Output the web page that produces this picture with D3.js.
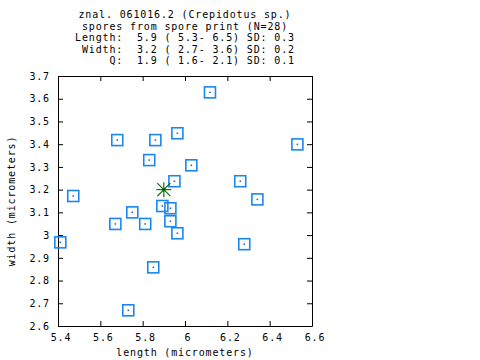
<!DOCTYPE html>
<html>
<head>
<meta charset="utf-8">
<script src="https://cdn.jsdelivr.net/npm/d3@7"></script>
<style>
  html, body { margin: 0; padding: 0; background: #fff; }
  svg { display: block; }
  text { font-family: "DejaVu Sans Mono", "Liberation Mono", monospace; font-size: 10px; letter-spacing: 0.85px; fill: #000; }
  .title { white-space: pre; }
</style>
</head>
<body>
<svg id="chart" width="480" height="360"></svg>
<script>
// ---- data ----
const titleLines = [
  "znal. 061016.2 (Crepidotus sp.)",
  "spores from spore print (N=28)",
  "Length:  5.9 ( 5.3- 6.5) SD: 0.3",
  " Width:  3.2 ( 2.7- 3.6) SD: 0.2",
  "     Q:  1.9 ( 1.6- 2.1) SD: 0.1"
];
const xLabel = "length (micrometers)";
const yLabel = "width (micrometers)";
const xTicks = [5.4, 5.6, 5.8, 6.0, 6.2, 6.4, 6.6];
const yTicks = [2.6, 2.7, 2.8, 2.9, 3.0, 3.1, 3.2, 3.3, 3.4, 3.5, 3.6, 3.7];
const lengths = [6.118, 5.680, 5.860, 5.964, 5.831, 6.030, 6.531, 6.261, 6.342, 6.280, 5.950,
                 5.472, 5.411, 5.751, 5.671, 5.812, 5.893, 5.931, 5.931, 5.964, 5.850, 5.732];
const widths  = [3.628, 3.418, 3.418, 3.448, 3.330, 3.307, 3.399, 3.237, 3.157, 2.960, 3.237,
                 3.172, 2.968, 3.100, 3.049, 3.049, 3.128, 3.118, 3.061, 3.008, 2.858, 2.669];
const meanLength = [5.9];
const meanWidth = [3.2];

// ---- layout ----
const L = 58, R = 312, T = 76, B = 326;
const svg = d3.select("#chart");
const x = d3.scaleLinear().domain([5.4, 6.6]).range([L, R]);
const y = d3.scaleLinear().domain([2.6, 3.7]).range([B, T]);
const fmt = d => d3.format("")(+d.toFixed(1));

// title
svg.append("g").selectAll("text").data(titleLines).join("text")
  .attr("class", "title")
  .attr("x", 185)
  .attr("y", (d, i) => 18 + i * 11.5)
  .attr("text-anchor", "middle")
  .text(d => d);

// axes
const styleAxis = g => {
  g.selectAll(".domain").attr("stroke", "#000").attr("stroke-width", 1);
  g.selectAll(".tick line").attr("stroke", "#000").attr("stroke-width", 1);
  g.selectAll("text").attr("font-family", null).attr("font-size", null).attr("fill", "#000");
};
const gx = svg.append("g").attr("transform", `translate(0,${B})`)
  .call(d3.axisBottom(x).tickValues(xTicks).tickFormat(fmt).tickSizeInner(-5).tickSizeOuter(0).tickPadding(8));
gx.call(styleAxis);
gx.selectAll("text").attr("dx", 2.5);
const gxt = svg.append("g").attr("transform", `translate(0,${T})`)
  .call(d3.axisTop(x).tickValues(xTicks).tickFormat("").tickSizeInner(-5).tickSizeOuter(0));
gxt.call(styleAxis);
const gy = svg.append("g").attr("transform", `translate(${L},0)`)
  .call(d3.axisLeft(y).tickValues(yTicks).tickFormat(fmt).tickSizeInner(-5).tickSizeOuter(0).tickPadding(8));
gy.call(styleAxis);
const gyr = svg.append("g").attr("transform", `translate(${R},0)`)
  .call(d3.axisRight(y).tickValues(yTicks).tickFormat("").tickSizeInner(-5).tickSizeOuter(0));
gyr.call(styleAxis);

// axis labels
svg.append("text").attr("x", 185).attr("y", 356).attr("text-anchor", "middle").text(xLabel);
svg.append("text").attr("transform", `translate(15,${(T + B) / 2}) rotate(-90)`)
  .attr("text-anchor", "middle").text(yLabel);

// points
const blue = "#1a86f2";
const pts = lengths.map((l, i) => ({ l, w: widths[i] }));
const gp = svg.append("g");
gp.selectAll("rect.sq").data(pts).join("rect").attr("class", "sq")
  .attr("x", d => x(d.l) - 5.5).attr("y", d => y(d.w) - 5.5)
  .attr("width", 11).attr("height", 11)
  .attr("fill", "none").attr("stroke", blue).attr("stroke-width", 1.6);
gp.selectAll("rect.dot").data(pts).join("rect").attr("class", "dot")
  .attr("x", d => x(d.l) - 0.75).attr("y", d => y(d.w) - 0.75)
  .attr("width", 1.5).attr("height", 1.5).attr("fill", "#1060c0");

// mean star
const green = "#006400";
const means = meanLength.map((l, i) => ({ l, w: meanWidth[i] }));
const star = svg.append("g").selectAll("g").data(means).join("g")
  .attr("transform", d => `translate(${x(d.l)},${y(d.w)})`);
const arms = [[-7.5, 0, 7.5, 0], [0, -7.5, 0, 7.5], [-6.5, -6.5, 6.5, 6.5], [-6.5, 6.5, 6.5, -6.5]];
arms.forEach(a => star.append("line")
  .attr("x1", a[0]).attr("y1", a[1]).attr("x2", a[2]).attr("y2", a[3])
  .attr("stroke", green).attr("stroke-width", 1.1));
star.append("circle").attr("r", 1.8).attr("fill", green);
</script>
</body>
</html>
